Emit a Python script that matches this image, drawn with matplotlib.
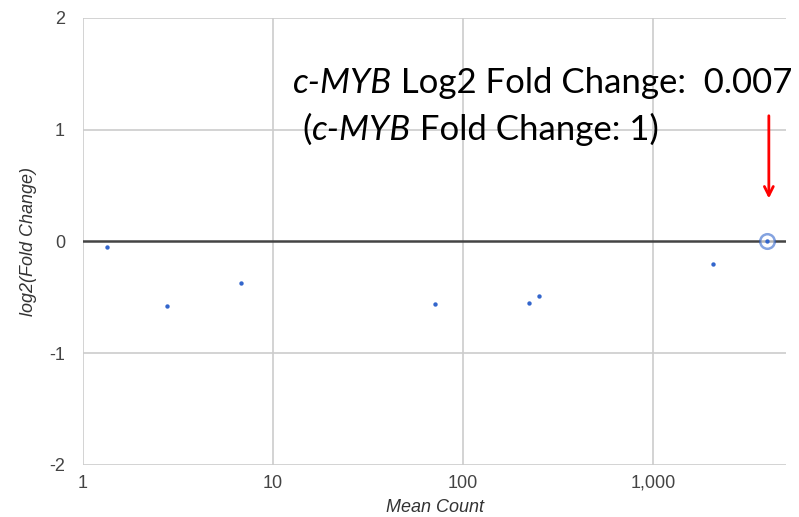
import matplotlib
matplotlib.use("Agg")
import matplotlib.pyplot as plt
import numpy as np

# Mean count vs log2 fold change per transcript
mean_count = [1.33, 2.78, 6.79, 71.2, 222, 251, 2069, 3981]
log2_fc = [-0.052, -0.58, -0.37, -0.56, -0.554, -0.49, -0.20, 0.007]
highlight_idx = 7  # c-MYB

x_ticks = [1, 10, 100, 1000]
x_tick_labels = ["1", "10", "100", "1,000"]
y_ticks = [-2, -1, 0, 1, 2]
y_tick_labels = ["-2", "-1", "0", "1", "2"]

fig = plt.figure(figsize=(7.99, 5.17), dpi=100)
ax = fig.add_axes([0.1039, 0.1006, 0.984 - 0.1039, 0.9652 - 0.1006])

ax.set_xscale("log")
ax.set_xlim(1, 10 ** 3.7)
ax.set_ylim(-2, 2)

for s in ax.spines.values():
    s.set_visible(False)

grid_c = "#cccccc"
for xt in x_ticks:
    ax.axvline(xt, color=grid_c, lw=1.2, zorder=0)
for yt in y_ticks:
    if yt != 0:
        ax.axhline(yt, color=grid_c, lw=1.2, zorder=0)
ax.axhline(0, color="#444444", lw=1.8, zorder=1)

axis_font = "Liberation Sans"
ax.set_xticks(x_ticks)
ax.set_xticklabels(x_tick_labels, family=axis_font)
ax.set_yticks(y_ticks)
ax.set_yticklabels(y_tick_labels, family=axis_font)
ax.minorticks_off()
ax.tick_params(axis="both", length=0, labelsize=13, labelcolor="#444444")
ax.tick_params(axis="x", pad=7)
ax.tick_params(axis="y", pad=13)

ax.set_xlabel("Mean Count", fontsize=13, style="italic", color="#333333",
              family=axis_font, labelpad=5)
ax.set_ylabel("log2(Fold Change)", fontsize=13, style="italic", color="#333333",
              family=axis_font, labelpad=9)

blue = "#3366cc"
ax.scatter(mean_count, log2_fc, s=10, color=blue, zorder=3, linewidths=0)
# selection ring around the highlighted gene
ax.scatter([mean_count[highlight_idx]], [log2_fc[highlight_idx]], s=110,
           facecolor="white", edgecolor=blue, linewidths=1.8, alpha=0.6, zorder=2)

# annotation text, italic gene name mixed with roman text
fam = "Lato"
fs = 25
t1 = ax.text(0.367, 0.820, "c-MYB", transform=fig.transFigure, fontsize=fs,
             family=fam, style="italic", color="black", va="baseline")
ax.annotate(" Log2 Fold Change:  0.007", xy=(1, 0), xycoords=t1, fontsize=fs,
            family=fam, color="black", va="bottom", annotation_clip=False)
t2 = ax.text(0.379, 0.729, "(", transform=fig.transFigure, fontsize=fs,
             family=fam, color="black", va="baseline")
t3 = ax.annotate("c-MYB", xy=(1, 0), xycoords=t2, fontsize=fs, family=fam,
                 style="italic", color="black", va="bottom", annotation_clip=False)
ax.annotate(" Fold Change: 1)", xy=(1, 0), xycoords=t3, fontsize=fs,
            family=fam, color="black", va="bottom", annotation_clip=False)

# red arrow pointing down to the highlighted gene
ax.annotate("", xy=(mean_count[highlight_idx] * 1.02, 0.36),
            xytext=(mean_count[highlight_idx] * 1.02, 1.15),
            arrowprops=dict(arrowstyle="->", color="red", lw=2, mutation_scale=16),
            annotation_clip=False)

fig.savefig("out.png", dpi=100, facecolor="white")
